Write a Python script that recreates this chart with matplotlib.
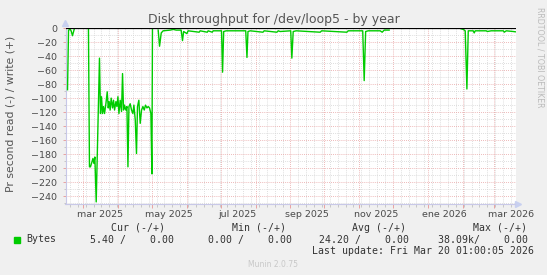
import numpy as np
import matplotlib
matplotlib.use('Agg')
import matplotlib.pyplot as plt
import matplotlib.dates as mdates
from matplotlib.ticker import MultipleLocator
from datetime import datetime, timedelta

# munin "by year" window (400 days)
start = datetime(2025, 2, 13, 1, 0)
end = datetime(2026, 3, 20, 1, 0)

# days since start / read bytes per second (negated), nan = no data
days = [1.8, 2.7, 4.2, 5.0, 6.2, 7.7, 8.5,
        20.4, 21.3, 22.2, 23.5, 24.4, 25.2, 26.1, 27.3, 30.2, 31.1, 32.0, 32.9, 33.8,
        34.7, 35.9, 37.1, 38.0, 38.8, 39.7, 40.6, 41.8, 42.7, 43.6, 44.8, 45.7, 46.6,
        47.5, 48.6, 49.8, 50.7, 51.6, 52.4, 53.7, 54.6, 55.5, 56.4, 57.5, 58.7, 59.9,
        60.8, 62.0, 63.1, 64.0, 65.2, 66.4, 67.6, 68.8, 70.0, 71.1, 72.4, 73.5, 74.7,
        75.9, 76.8, 77.3, 78.0,
        82.4, 83.6, 85.1, 86.8, 93.1, 95.8, 98.4, 102.8, 104.0, 105.0, 107.9, 109.0,
        118.8, 119.7, 126.0, 126.8, 130.4, 131.3, 138.7, 139.6, 140.6, 142.8, 160.2,
        161.3, 162.2, 164.2, 175.5, 176.6, 187.9, 189.1, 190.8, 200.2, 201.2, 202.4,
        205.1, 226.4, 227.7, 250.1, 251.3, 264.2, 265.5, 266.8, 269.1, 279.7, 281.5,
        283.3, 287.7, 288.5,
        351.5, 353.6, 355.3, 356.8, 358.0, 362.4, 363.3, 364.2, 374.0, 374.9, 378.4,
        389.2, 390.0, 391.8, 398.0, 399.8]
read = [-88, -3, -2, -4, -11, -2, np.nan,
        -1, -198, -198, -191, -186, -193, -184, -248, -43, -122, -98, -122, -112,
        -122, -108, -91, -114, -105, -117, -100, -114, -103, -117, -105, -112, -98,
        -122, -103, -119, -65, -117, -110, -117, -112, -198, -112, -108, -117, -122,
        -110, -131, -179, -112, -103, -136, -117, -112, -117, -110, -114, -112, -114,
        -122, -208, 0, np.nan,
        -3, -26, -7, -4, -3, -2, -3, -3, -18, -5, -8, -4,
        -6, -4, -6, -4, -6, -4, -4, -63, -5, -4, -4,
        -42, -5, -4, -6, -4, -6, -4, -5, -4, -43, -5,
        -4, -6, -4, -6, -4, -4, -75, -5, -4, -4, -6,
        -3, -3, np.nan,
        -1, -2, -4, -87, -4, -4, -7, -4, -4, -5, -4,
        -4, -6, -4, -5, -5.4]

# x labels sit in the middle of every other month
label_dates = [datetime(2025, 3, 16), datetime(2025, 5, 16), datetime(2025, 7, 16),
               datetime(2025, 9, 16), datetime(2025, 11, 16), datetime(2026, 1, 16),
               datetime(2026, 3, 16)]
label_text = ['mar 2025', 'may 2025', 'jul 2025', 'sep 2025', 'nov 2025',
              'ene 2026', 'mar 2026']

W, H = 547, 275
fig = plt.figure(figsize=(W / 100, H / 100), dpi=100, facecolor='#f0f0f0')
ax = fig.add_axes([65.5 / W, 1 - 204 / H, 450 / W, 176 / H])
ax.set_facecolor('white')

x = [start + timedelta(days=d) for d in days]
ax.plot(x, read, color='#00cc00', lw=1.0, zorder=4)
ax.axhline(0, color='black', lw=0.9, zorder=5)

ax.set_xlim(start, end)
ax.set_ylim(-251, 0)

# grid: gray minor, red major
ax.xaxis.set_major_locator(mdates.MonthLocator())
ax.xaxis.set_minor_locator(mdates.WeekdayLocator(byweekday=mdates.MO))
ax.xaxis.set_major_formatter(plt.NullFormatter())
ax.yaxis.set_major_locator(MultipleLocator(20))
ax.yaxis.set_minor_locator(MultipleLocator(10))
ax.grid(which='minor', color='#d4d4d4', lw=0.6, ls=(0, (1, 1.5)))
ax.grid(which='major', color='#e8a2a2', lw=0.6, ls=(0, (1, 1.5)))
ax.set_axisbelow(True)

for s in ['top', 'right']:
    ax.spines[s].set_visible(False)
for s in ['left', 'bottom']:
    ax.spines[s].set_color('#c8c8e8')
    ax.spines[s].set_linewidth(0.8)

ax.tick_params(which='major', axis='x', length=3, color='#e8a2a2', width=0.7)
ax.tick_params(which='minor', axis='x', length=2, color='#c0c0c0', width=0.6)
ax.tick_params(which='major', axis='y', length=2, color='#e8a2a2', width=0.7,
               labelsize=6.8, labelcolor='#4a4a4a', pad=4)
ax.tick_params(which='minor', axis='y', length=1.5, color='#c0c0c0', width=0.6)

for d, t in zip(label_dates, label_text):
    ax.text(d, -0.035, t, transform=ax.get_xaxis_transform(), ha='center', va='top',
            fontsize=6.8, color='#4a4a4a')

# axis arrows
ax.plot([start], [7], marker='^', color='#c8d0f0', ms=4, clip_on=False)
ax.plot([end + timedelta(days=2)], [-251], marker='>', color='#c8d0f0', ms=4, clip_on=False)

def ftext(px, py, s, **kw):
    fig.text(px / W, 1 - py / H, s, **kw)

ftext(273.5, 19, 'Disk throughput for /dev/loop5 - by year', ha='center', va='center',
      fontsize=9, color='#555555')
ftext(11, 113.5, 'Pr second read (-) / write (+)', rotation=90, ha='center', va='center',
      fontsize=7.8, color='#555555')
ftext(540, 57, 'RRDTOOL / TOBI OETIKER', rotation=270, ha='center', va='center',
      fontsize=5.7, color='#bbbbbb')

mono = dict(family='DejaVu Sans Mono', fontsize=7.1, color='#333333', va='center')
ftext(165, 228, 'Cur (-/+)', ha='right', **mono)
ftext(285.5, 228, 'Min (-/+)', ha='right', **mono)
ftext(406, 228, 'Avg (-/+)', ha='right', **mono)
ftext(527, 228, 'Max (-/+)', ha='right', **mono)
fig.patches.append(plt.Rectangle((13.5 / W, 1 - 243 / H), 6 / W, 6 / H,
                                 transform=fig.transFigure, color='#00cc00'))
ftext(26, 239.5, 'Bytes', ha='left', **mono)
ftext(174, 239.5, '5.40 /    0.00', ha='right', **mono)
ftext(292, 239.5, '0.00 /    0.00', ha='right', **mono)
ftext(409, 239.5, '24.20 /    0.00', ha='right', **mono)
ftext(527.5, 239.5, '38.09k/    0.00', ha='right', **mono)
ftext(533.5, 251, 'Last update: Fri Mar 20 01:00:05 2026', ha='right', **mono)
ftext(273, 264.5, 'Munin 2.0.75', ha='center', va='center', fontsize=5.5, color='#c8c8c8')

fig.savefig('out.png', dpi=100, facecolor=fig.get_facecolor())
